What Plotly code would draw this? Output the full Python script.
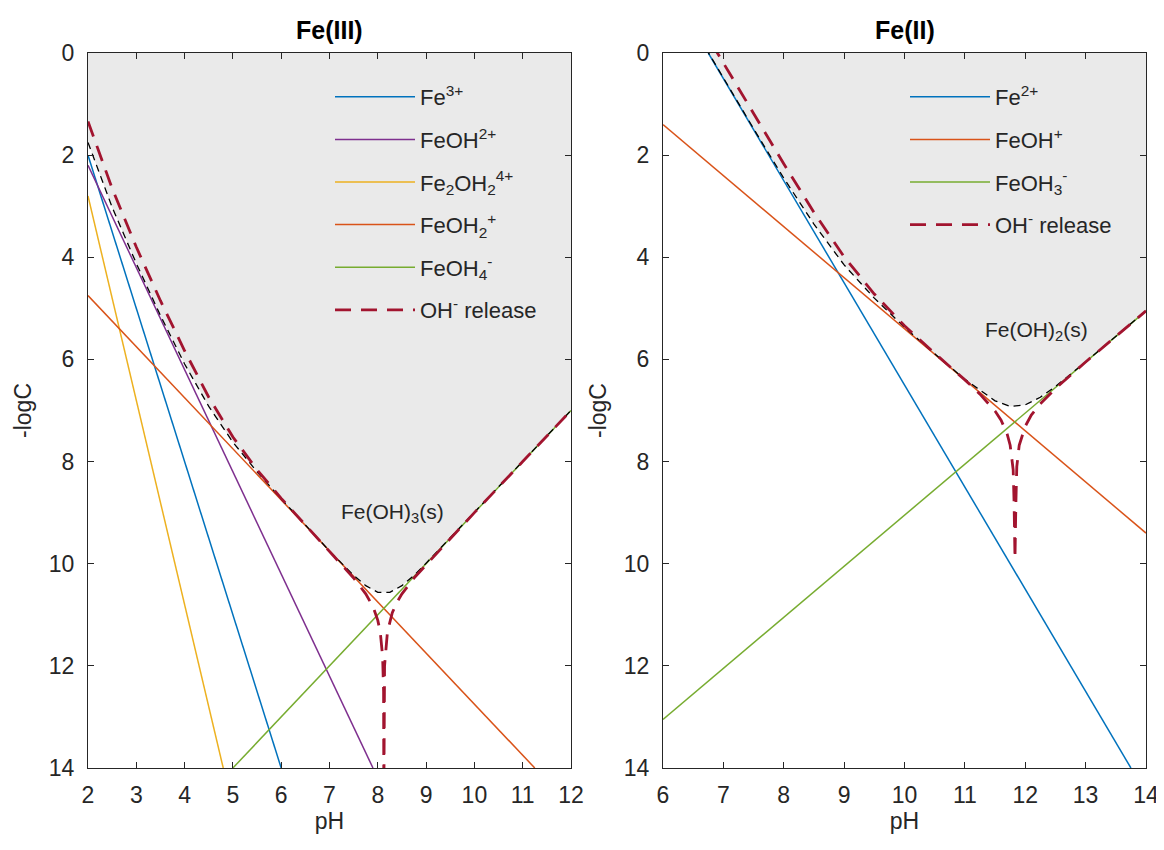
import plotly.graph_objects as go

# ---------------- Fe(III) panel data ----------------
fe3_ph = [2.0, 6.0]
fe3_logc = [2.0, 14.0]
feoh_ph = [2.0, 7.9]
feoh_logc = [2.2, 14.0]
fe2oh2_ph = [2.0, 4.8]
fe2oh2_logc = [2.8, 14.0]
feoh2_ph = [2.0, 11.25]
feoh2_logc = [4.75, 14.0]
feoh4_ph = [5.0, 12.0]
feoh4_logc = [14.0, 7.0]

tot3_ph = [2.0, 2.5, 3.0, 3.5, 4.0, 4.5, 5.0, 5.5, 6.0, 6.5, 7.0, 7.5, 7.75, 8.0,
           8.25, 8.5, 8.75, 9.0, 9.5, 10.0, 11.0, 12.0]
tot3_logc = [1.75, 3.02, 4.12, 5.14, 6.09, 6.92, 7.62, 8.20, 8.73, 9.25, 9.75, 10.23,
             10.43, 10.56, 10.56, 10.43, 10.23, 9.99, 9.49, 9.0, 8.0, 7.0]

oh3_ph = [2.0, 2.5, 3.0, 3.5, 4.0, 4.5, 5.0, 5.5, 6.0, 6.5, 7.0, 7.5, 7.75, 7.9, 8.0,
          8.05, 8.1, 8.12, 8.125, 8.13, 8.14, 8.2, 8.3, 8.4, 8.5, 8.75, 9.0, 9.5,
          10.0, 11.0, 12.0]
oh3_logc = [1.34, 2.65, 3.80, 4.85, 5.83, 6.74, 7.52, 8.16, 8.72, 9.24, 9.75, 10.28,
            10.59, 10.84, 11.11, 11.33, 11.82, 12.5, 14.6, 12.5, 12.0, 11.33, 10.96,
            10.75, 10.59, 10.28, 10.02, 9.5, 9.0, 8.0, 7.0]

# ---------------- Fe(II) panel data ----------------
fe2_ph = [6.75, 13.75]
fe2_logc = [0.0, 14.0]
feoh1_ph = [6.0, 14.0]
feoh1_logc = [1.4, 9.4]
feoh3_ph = [6.0, 14.0]
feoh3_logc = [13.05, 5.05]

tot2_ph = [6.0, 6.5, 6.75, 7.0, 7.5, 8.0, 8.5, 9.0, 9.5, 10.0, 10.5, 11.0, 11.5,
           11.75, 12.0, 12.25, 12.5, 13.0, 13.5, 14.0]
tot2_logc = [-1.5, -0.5, 0.0, 0.5, 1.48, 2.45, 3.35, 4.15, 4.80, 5.37, 5.89, 6.39,
             6.81, 6.92, 6.89, 6.74, 6.53, 6.05, 5.55, 5.05]

oh2_ph = [6.8, 6.9, 7.0, 7.5, 8.0, 8.5, 9.0, 9.5, 10.0, 10.5, 11.0, 11.25, 11.5,
          11.6, 11.7, 11.75, 11.8, 11.815, 11.83, 11.845, 11.86, 11.9, 12.0, 12.1,
          12.25, 12.5, 13.0, 13.5, 14.0]
oh2_logc = [-0.2, 0.0, 0.2, 1.19, 2.17, 3.12, 3.99, 4.72, 5.34, 5.88, 6.40, 6.68,
            7.01, 7.19, 7.46, 7.68, 8.16, 8.8, 9.9, 8.8, 8.1, 7.68, 7.31, 7.09,
            6.87, 6.57, 6.05, 5.55, 5.05]

BLUE = "#0072BD"
ORANGE = "#D95319"
YELLOW = "#EDB120"
PURPLE = "#7E2F8E"
GREEN = "#77AC30"
RED = "#A2142F"
GRAY = "#eaeaea"
AX = "#262626"
FONT = "Liberation Sans, Arial, sans-serif"

# page shows the figure offset by 8 px; sizes/domains computed in figure pixels
W, H = 1155, 834
def px(x):
    return x / W
def py(y):
    return 1 - y / H

fig = go.Figure()

fig.add_trace(go.Scatter(x=tot3_ph, y=tot3_logc, fill="tozeroy", fillcolor=GRAY,
                         line=dict(width=0), mode="lines", showlegend=False,
                         hoverinfo="skip", xaxis="x", yaxis="y"))
fig.add_trace(go.Scatter(x=tot2_ph, y=tot2_logc, fill="tozeroy", fillcolor=GRAY,
                         line=dict(width=0), mode="lines", showlegend=False,
                         hoverinfo="skip", xaxis="x2", yaxis="y2"))

def sp(x, y, name, color, xa, ya, leg, grp):
    fig.add_trace(go.Scatter(x=x, y=y, name=name, mode="lines",
                             line=dict(color=color, width=1.5),
                             xaxis=xa, yaxis=ya, legend=leg, legendgroup=grp))

sp(fe3_ph, fe3_logc, "Fe<sup>3+</sup>", BLUE, "x", "y", "legend", "a1")
sp(feoh_ph, feoh_logc, "FeOH<sup>2+</sup>", PURPLE, "x", "y", "legend", "a2")
sp(fe2oh2_ph, fe2oh2_logc, "Fe<sub>2</sub>OH<sub>2</sub><sup>4+</sup>", YELLOW, "x", "y", "legend", "a3")
sp(feoh2_ph, feoh2_logc, "FeOH<sub>2</sub><sup>+</sup>", ORANGE, "x", "y", "legend", "a4")
sp(feoh4_ph, feoh4_logc, "FeOH<sub>4</sub><sup>-</sup>", GREEN, "x", "y", "legend", "a5")

fig.add_trace(go.Scatter(x=tot3_ph, y=tot3_logc, mode="lines", showlegend=False,
                         line=dict(color="black", width=1.3, dash="7px,5px"),
                         xaxis="x", yaxis="y"))
fig.add_trace(go.Scatter(x=oh3_ph, y=oh3_logc, mode="lines", name="OH<sup>-</sup> release",
                         line=dict(color=RED, width=2.8, dash="16px,10px"),
                         xaxis="x", yaxis="y", legend="legend", legendgroup="a6"))

sp(fe2_ph, fe2_logc, "Fe<sup>2+</sup>", BLUE, "x2", "y2", "legend2", "b1")
sp(feoh1_ph, feoh1_logc, "FeOH<sup>+</sup>", ORANGE, "x2", "y2", "legend2", "b2")
sp(feoh3_ph, feoh3_logc, "FeOH<sub>3</sub><sup>-</sup>", GREEN, "x2", "y2", "legend2", "b3")

fig.add_trace(go.Scatter(x=tot2_ph, y=tot2_logc, mode="lines", showlegend=False,
                         line=dict(color="black", width=1.3, dash="7px,5px"),
                         xaxis="x2", yaxis="y2"))
fig.add_trace(go.Scatter(x=oh2_ph, y=oh2_logc, mode="lines", name="OH<sup>-</sup> release",
                         line=dict(color=RED, width=2.8, dash="16px,10px"),
                         xaxis="x2", yaxis="y2", legend="legend2", legendgroup="b4"))

axcommon = dict(showline=True, linecolor=AX, linewidth=1, mirror="ticks",
                ticks="inside", ticklen=6, tickcolor=AX, showgrid=False,
                zeroline=False, tickfont=dict(size=23, color=AX, family=FONT),
                automargin=False, ticklabeloverflow="allow")
xcommon = dict(ticklabelstandoff=6, **axcommon)
ycommon = dict(ticklabelstandoff=8, **axcommon)

fig.update_layout(
    width=W, height=H,
    margin=dict(l=0, r=0, t=0, b=0),
    paper_bgcolor="white", plot_bgcolor="white",
    font=dict(family=FONT, color=AX),
    xaxis=dict(domain=[px(80), px(563)], range=[2, 12], dtick=1, anchor="y",
               title=dict(text="pH", font=dict(size=23), standoff=2), **xcommon),
    yaxis=dict(domain=[py(760), py(45)], range=[14, 0], dtick=2, anchor="x",
               title=dict(text="-logC", font=dict(size=23), standoff=10), **ycommon),
    xaxis2=dict(domain=[px(655), px(1138)], range=[6, 14], dtick=1, anchor="y2",
                title=dict(text="pH", font=dict(size=23), standoff=2), **xcommon),
    yaxis2=dict(domain=[py(760), py(45)], range=[14, 0], dtick=2, anchor="x2",
                title=dict(text="-logC", font=dict(size=23), standoff=10), **ycommon),
    legend=dict(x=px(322), y=py(68), xanchor="left", yanchor="top",
                bgcolor="rgba(0,0,0,0)", font=dict(size=22, color=AX),
                tracegroupgap=11, itemwidth=80),
    legend2=dict(x=px(897), y=py(68), xanchor="left", yanchor="top",
                 bgcolor="rgba(0,0,0,0)", font=dict(size=22, color=AX),
                 tracegroupgap=11, itemwidth=80),
    annotations=[
        dict(text="<b>Fe(III)</b>", x=px(321.5), y=py(22), xref="paper", yref="paper",
             xanchor="center", yanchor="middle",
             showarrow=False, font=dict(size=25, color="black")),
        dict(text="<b>Fe(II)</b>", x=px(896.5), y=py(22), xref="paper", yref="paper",
             xanchor="center", yanchor="middle",
             showarrow=False, font=dict(size=25, color="black")),
        dict(text="Fe(OH)<sub>3</sub>(s)", x=8.31, y=9.0, xref="x", yref="y",
             showarrow=False, font=dict(size=21, color=AX)),
        dict(text="Fe(OH)<sub>2</sub>(s)", x=12.19, y=5.45, xref="x2", yref="y2",
             showarrow=False, font=dict(size=21, color=AX)),
    ],
)

fig.write_html("out.html")
